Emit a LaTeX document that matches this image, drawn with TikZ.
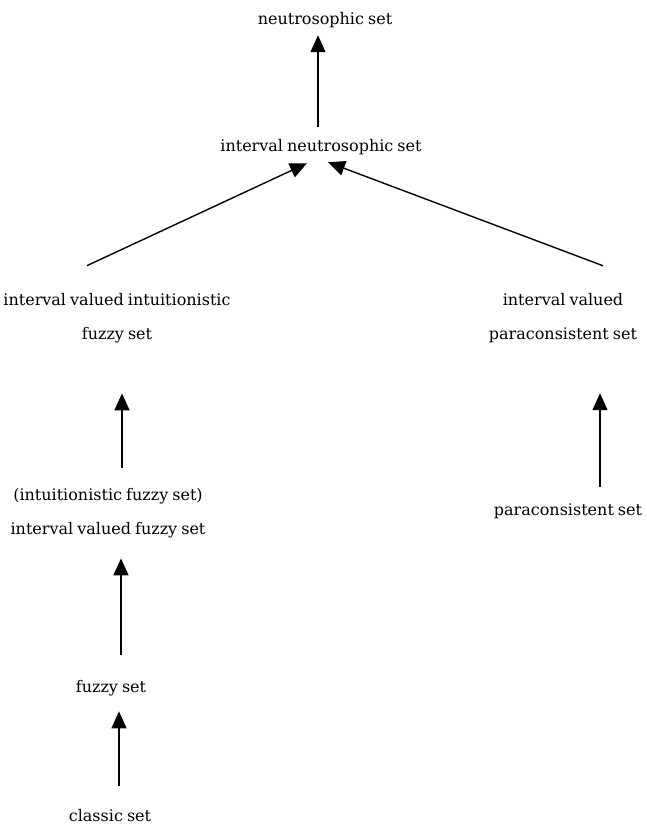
\documentclass[tikz,border=0pt]{standalone}
\usepackage{fontspec}
\setmainfont{DejaVu Serif}[WordSpace=0.8]
\usepackage{tikz}
\usetikzlibrary{arrows.meta,positioning,calc}
\tikzset{
    every picture/.style={line join=miter},
    setnode/.style={inner sep=0pt,outer sep=0pt,align=center,
      font=\fontsize{16}{34}\selectfont},
    flowarrow/.style={-{Triangle[length=17pt,width=15pt]},draw=black,
      line width=1.4pt}
}
\begin{document}
\begin{tikzpicture}[x=1pt,y=-1pt]
  \useasboundingbox (0,0) rectangle (646,829);
  \node[setnode] (ns)   at (325,20)  {neutrosophic set};
  \node[setnode] (ins)  at (321,147) {interval neutrosophic set};
  \node[setnode] (ivif) at (117,318) {interval valued intuitionistic\\fuzzy set};
  \node[setnode] (ivp)  at (563,318) {interval valued\\paraconsistent set};
  \node[setnode] (ifs)  at (108,513) {(intuitionistic fuzzy set)\\interval valued fuzzy set};
  \node[setnode] (ps)   at (568,511) {paraconsistent set};
  \node[setnode] (fs)   at (111,688) {fuzzy set};
  \node[setnode] (cs)   at (110,816) {classic set};
  \draw[flowarrow] ($(ins.north)+(-3,-12.5)$) -- ($(ns.south)+(-7,7.5)$);
  \draw[flowarrow] ($(ivif.north)+(-30,-27.5)$) -- ($(ins.south)+(-14,8.5)$);
  \draw[flowarrow] ($(ivp.north)+(40,-27.5)$) -- ($(ins.south)+(7,7.5)$);
  \draw[flowarrow] ($(ifs.north)+(14,-20.5)$) -- ($(ivif.south)+(5,50.5)$);
  \draw[flowarrow] ($(ps.north)+(32,-16.5)$) -- ($(ivp.south)+(37,50.5)$);
  \draw[flowarrow] ($(fs.north)+(10,-25.5)$) -- ($(ifs.south)+(13,20.5)$);
  \draw[flowarrow] ($(cs.north)+(9,-23.5)$) -- ($(fs.south)+(8,15.5)$);
\end{tikzpicture}
\end{document}
